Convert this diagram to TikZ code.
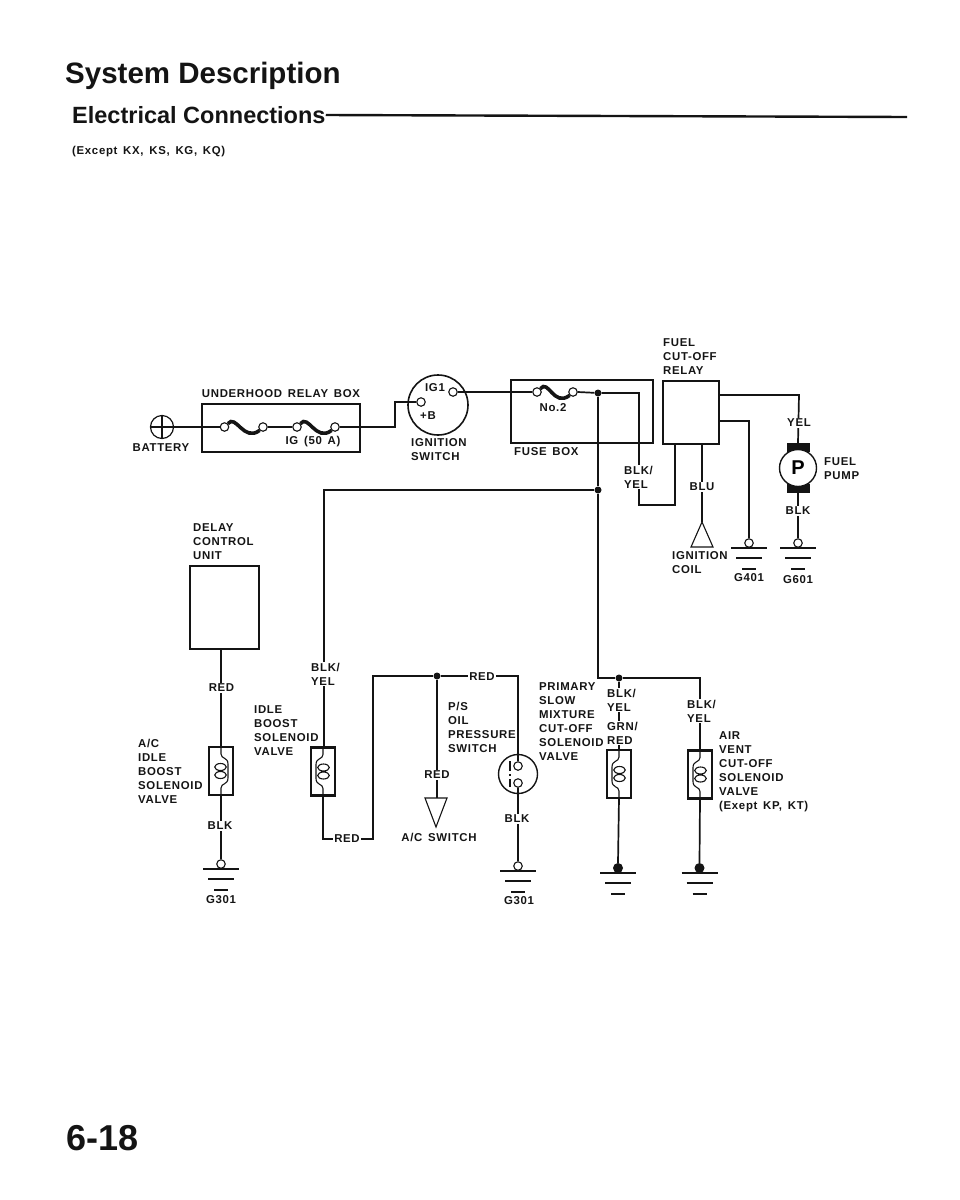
\documentclass[tikz,border=0pt]{standalone}
\usepackage{fontspec}
\setmainfont{Liberation Sans}
\newfontfamily\wirefont[LetterSpace=6,WordSpace=1.5]{Liberation Sans}
\usetikzlibrary{calc,positioning}
\definecolor{inkblk}{gray}{0.08}
\newcommand{\gndmark}[1]{\draw[wire] (#1) +(-18,0) -- +(18,0) +(-13,10) -- +(13,10) +(-7,21) -- +(7,21);}
\newcommand{\coilmark}[2]{
  \begin{scope}[shift={(#1)},xscale=#2]
    \draw[thinwire] (0,-24) -- (0,-17) .. controls (0,-12) and (-7,-14) .. (-7,-7) -- (-7,7) .. controls (-7,14) and (0,12) .. (0,17) -- (0,24);
    \draw[thinwire] (0.5,-4) ellipse (5.8 and 3.5) (0.5,4) ellipse (5.8 and 3.5);
  \end{scope}}
\tikzset{
  wire/.style={draw=inkblk,line width=1.7pt},
  thinwire/.style={draw=inkblk,line width=1.1pt},
  unitbox/.style={draw=inkblk,line width=2.2pt,rectangle,inner sep=0pt,outer sep=0pt},
  valvebox/.style={unitbox,minimum width=24pt,minimum height=48pt},
  term/.style={circle,draw=inkblk,fill=white,line width=1.1pt,inner sep=0pt,minimum size=8.5pt},
  junc/.style={circle,fill=inkblk,inner sep=0pt,minimum size=7pt},
  gdot/.style={circle,fill=inkblk,inner sep=0pt,minimum size=10pt},
  fuselink/.style={draw=inkblk,line width=3.6pt},
  lbl/.style={font=\wirefont\bfseries\fontsize{11.4}{14}\selectfont,text=inkblk,fill=white,inner sep=1pt,align=left},
  txt/.style={lbl,fill=none,anchor=west},
}
\begin{document}
\begin{tikzpicture}[x=1pt,y=-1pt]
  \useasboundingbox (0,0) rectangle (960,1200);
  \node[font=\bfseries\fontsize{29.5}{32}\selectfont,text=inkblk,anchor=west,inner sep=0pt] (title) at (65,76) {System Description};
  \node[font=\bfseries\fontsize{23.5}{26}\selectfont,text=inkblk,anchor=west,inner sep=0pt] (subtitle) at (72,115) {Electrical Connections};
  \coordinate (ruleend) at (907,117);
  \draw[draw=inkblk,line width=2.4pt] (subtitle.east) -- (ruleend);
  \node[txt,inner sep=0pt] (except) at (72,152) {(Except KX, KS, KG, KQ)};
  \node[font=\bfseries\fontsize{36}{40}\selectfont,text=inkblk,anchor=west,inner sep=0pt] (pagenum) at (66,1138) {6-18};

  \node[circle,draw=inkblk,line width=1.2pt,inner sep=0pt,minimum size=23pt] (battery) at (162,427) {};
  \draw[thinwire] (battery.north) -- (battery.south) (battery.west) -- (battery.east);

  \node[unitbox,minimum width=158pt,minimum height=48pt] (relaybox) at (281,428) {};
  \node[term] (ta) at (224.5,427) {};
  \node[term] (tb) at (263,427) {};
  \node[term] (tc) at (297,427) {};
  \node[term] (td) at (335,427) {};
  \draw[fuselink] (ta.north east) .. controls ++(8,-10) and ++(-16,12) .. (tb.south west);
  \draw[fuselink] (tc.north east) .. controls ++(8,-10) and ++(-16,12) .. (td.south west);

  \node[circle,draw=inkblk,line width=1.6pt,inner sep=0pt,minimum size=60pt] (ignsw) at (438,405) {};
  \node[term] (tplus) at (421,402) {};
  \node[term] (tigone) at (453,392) {};

  \node[unitbox,minimum width=142pt,minimum height=63pt] (fusebox) at (582,411.5) {};
  \node[term] (tfa) at (537,392) {};
  \node[term] (tfb) at (573,392) {};
  \draw[fuselink] (tfa.north east) .. controls ++(8,-10) and ++(-16,12) .. (tfb.south west);

  \node[unitbox,minimum width=56pt,minimum height=63pt] (cutrelay) at (691,412.5) {};

  \node[fill=inkblk,inner sep=0pt,minimum width=23pt,minimum height=9pt] (pumptop) at (798,447.5) {};
  \node[fill=inkblk,inner sep=0pt,minimum width=23pt,minimum height=9pt] (pumpbot) at (798,488) {};
  \node[circle,draw=inkblk,fill=white,line width=1.4pt,inner sep=0pt,minimum size=37pt,font=\bfseries\fontsize{20}{20}\selectfont] (pump) at (798,468) {P};

  \node[unitbox,minimum width=69pt,minimum height=83pt] (delaybox) at (224.5,607.5) {};
  \node[valvebox] (acvalve) at (221,771) {};
  \node[valvebox] (idlevalve) at (323,771.5) {};
  \node[valvebox] (pmvalve) at (619,774) {};
  \node[valvebox] (airvalve) at (700,774.5) {};
  \coilmark{acvalve}{-1}
  \coilmark{idlevalve}{1}
  \coilmark{pmvalve}{1}
  \coilmark{airvalve}{1}

  \node[circle,draw=inkblk,line width=1.4pt,inner sep=0pt,minimum size=39pt] (psw) at (518,774) {};
  \node[term] (tpa) at (518,766) {};
  \node[term] (tpb) at (518,783) {};
  \draw[thinwire] (510,761) -- (510,771) (510,774) -- (510,776) (510,779) -- (510,787);

  \node[junc] (jtop) at (598,393) {};
  \node[junc] (jmid) at (598,490) {};
  \node[junc] (jpm) at (619,678) {};
  \node[junc] (jac) at (437,676) {};
  \coordinate (jlow) at (598,678);
  \coordinate (bend) at (395,427);
  \coordinate (bkyelr) at (639,393);
  \coordinate (bkyelb) at (639,505);
  \coordinate (relayb) at (675,505);
  \coordinate (relayb2) at (675,444);
  \coordinate (yela) at (799,395);
  \coordinate (relaya) at (719,395);
  \coordinate (gnda) at (749,421);
  \coordinate (relayc) at (719,421);
  \coordinate (blkl) at (324,490);
  \coordinate (airtop) at (700,678);
  \coordinate (redlo) at (323,839);
  \coordinate (redup) at (373,839);
  \coordinate (redul) at (373,676);
  \coordinate (redur) at (518,676);

  \node[term] (gndacc) at (221,864) {};
  \node[term] (gndbpw) at (518,866) {};
  \node[term] (gndfpr) at (749,543) {};
  \node[term] (gndpmp) at (798,543) {};
  \node[gdot] (gndpm) at (618,868) {};
  \node[gdot] (gndair) at (699.5,868) {};
  \gndmark{gndacc.south}
  \gndmark{gndbpw.south}
  \gndmark{gndfpr.south}
  \gndmark{gndpmp.south}
  \gndmark{gndpm.south}
  \gndmark{gndair.south}

  \coordinate (coilapex) at (702,522);
  \coordinate (swapex) at (436,827);
  \coordinate (swtop) at (437,798);
  \draw[thinwire] (coilapex) -- ++(-11,25) -- ++(22,0) -- cycle;
  \draw[thinwire] (swapex) -- ++(-11,-29) -- ++(22,0) -- cycle;

  \draw[wire] (battery.east) -- (ta.west);
  \draw[wire] (tb.east) -- (tc.west);
  \draw[wire] (td.east) -- (bend) |- (tplus.west);
  \draw[wire] (tigone.east) -- (tfa.west);
  \draw[wire] (tfb.east) -- (jtop) -- (bkyelr) -- (bkyelb) -- (relayb) -- (relayb2);
  \draw[wire] (jtop) -- (jmid) -- (jlow) -- (jpm) -- (airtop) -- (airvalve.north);
  \draw[wire] (relaya) -- (yela) -- (pumptop.north);
  \draw[wire] (relayc) -| (gndfpr.north);
  \draw[wire] (pumpbot.south) -- (gndpmp.north);
  \draw[wire] (702,444) -- (coilapex);
  \draw[wire] (jmid) -- (blkl) -- (blkl |- idlevalve.north);
  \draw[wire] (delaybox.south -| acvalve) -- (acvalve.north);
  \draw[wire] (acvalve.south) -- (gndacc.north);
  \draw[wire] (idlevalve.south) -- (redlo) -- (redup) -- (redul) -- (jac) -- (redur) -- (tpa.north);
  \draw[wire] (jac) -- (swtop);
  \draw[wire] (tpb.south) -- (gndbpw.north);
  \draw[wire] (jpm) -- (pmvalve.north);
  \draw[wire] (pmvalve.south) -- (gndpm.north);
  \draw[wire] (airvalve.south) -- (gndair.north);

  \node[lbl,fill=none] (lunder) at (281,394) {UNDERHOOD RELAY BOX};
  \node[lbl,fill=none] (lbatt) at (161,448) {BATTERY};
  \node[lbl,fill=none] (lig) at (313,442) {IG (50 A)};
  \node[lbl,fill=none] (ligone) at (435,388) {IG1};
  \node[lbl,fill=none] (lplus) at (428,416) {+B};
  \node[txt] (lignsw) at (410,450) {IGNITION\\SWITCH};
  \node[lbl,fill=none] (lno) at (553,408) {No.2};
  \node[txt] (lfuse) at (513,452) {FUSE BOX};
  \node[txt] (lrelay) at (662,357) {FUEL\\CUT-OFF\\RELAY};
  \node[lbl] (lyel) at (799,423) {YEL};
  \node[lbl,anchor=west] (lbkya) at (623,477) {BLK/\\YEL};
  \node[lbl] (lblu) at (702,487) {BLU};
  \node[txt] (lpump) at (823,469) {FUEL\\PUMP};
  \node[lbl] (lblkp) at (798,511) {BLK};
  \node[txt] (lcoil) at (671,563) {IGNITION\\COIL};
  \node[lbl,fill=none] (lgfour) at (749,578) {G401};
  \node[lbl,fill=none] (lgsix) at (798,580) {G601};
  \node[txt] (ldelay) at (192,542) {DELAY\\CONTROL\\UNIT};
  \node[lbl] (lreda) at (221.5,688) {RED};
  \node[lbl] (lblka) at (220,826) {BLK};
  \node[txt] (lacidle) at (137,771) {A/C\\IDLE\\BOOST\\SOLENOID\\VALVE};
  \node[lbl,fill=none] (lgthra) at (221,900) {G301};
  \node[txt] (lidle) at (253,731) {IDLE\\BOOST\\SOLENOID\\VALVE};
  \node[lbl,anchor=west] (lbkyb) at (310,674) {BLK/\\YEL};
  \node[lbl] (lredb) at (347,839) {RED};
  \node[lbl] (lredc) at (482,677) {RED};
  \node[txt] (lpsoil) at (447,727) {P/S\\OIL\\PRESSURE\\SWITCH};
  \node[lbl] (lredd) at (437,775) {RED};
  \node[lbl,fill=none] (lacsw) at (439,837) {A/C SWITCH};
  \node[lbl] (lblkb) at (517,819) {BLK};
  \node[lbl,fill=none] (lgthrb) at (519,901) {G301};
  \node[txt] (lprim) at (538,722) {PRIMARY\\SLOW\\MIXTURE\\CUT-OFF\\SOLENOID\\VALVE};
  \node[lbl,anchor=west] (lbkyc) at (606,700) {BLK/\\YEL};
  \node[lbl,anchor=west] (lgrn) at (606,733) {GRN/\\RED};
  \node[lbl,anchor=west] (lbkyd) at (686,711) {BLK/\\YEL};
  \node[txt] (lair) at (718,772) {AIR\\VENT\\CUT-OFF\\SOLENOID\\VALVE\\(Exept KP, KT)};
\end{tikzpicture}
\end{document}
